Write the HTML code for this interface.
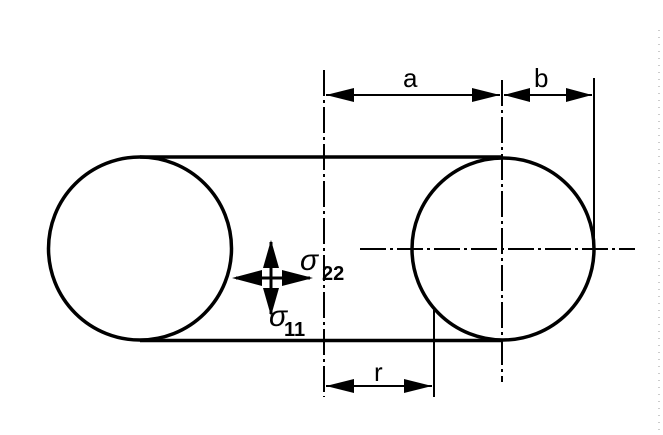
<!DOCTYPE html>
<html><head><meta charset="utf-8"><style>
html,body{margin:0;padding:0;background:#fff;}
svg{display:block;}
text{font-family:"Liberation Sans",sans-serif;fill:#000;}
</style></head><body>
<svg width="663" height="435" viewBox="0 0 663 435" xmlns="http://www.w3.org/2000/svg">
<g stroke="#000" fill="none">
<circle cx="140" cy="248.5" r="91.5" stroke-width="3.5"/>
<circle cx="503" cy="249" r="91" stroke-width="3.5"/>
<line x1="140" y1="157" x2="503" y2="157" stroke-width="3.5"/>
<line x1="140" y1="340.5" x2="503" y2="340.5" stroke-width="3.5"/>
<line x1="324" y1="70" x2="324" y2="397" stroke-width="2" stroke-dasharray="26,4,3,4"/>
<line x1="502" y1="80" x2="502" y2="382" stroke-width="2" stroke-dasharray="26,4,3,4"/>
<line x1="360" y1="249" x2="635" y2="249" stroke-width="2" stroke-dasharray="26,4,3,4"/>
<line x1="594" y1="78" x2="594" y2="249" stroke-width="2"/>
<line x1="434" y1="310" x2="434" y2="397" stroke-width="2"/>
<line x1="326" y1="95" x2="500" y2="95" stroke-width="2"/>
<line x1="504" y1="95" x2="592" y2="95" stroke-width="2"/>
<line x1="326" y1="386" x2="432" y2="386" stroke-width="2"/>
<line x1="236" y1="278" x2="310" y2="278" stroke-width="3"/>
<line x1="271" y1="242" x2="271" y2="314" stroke-width="3"/>
</g>
<g fill="#000">
<!-- a -->
<polygon points="326,95 354,88 354,102"/>
<polygon points="500,95 472,88 472,102"/>
<!-- b -->
<polygon points="504,95 530,88 530,102"/>
<polygon points="592,95 566,88 566,102"/>
<!-- r -->
<polygon points="326,386 354,379 354,393"/>
<polygon points="432,386 404,379 404,393"/>
<!-- stress -->
<polygon points="232,278 262,270 262,286"/>
<polygon points="313,278 282,270 282,286"/>
<polygon points="271,240 263,268 279,268"/>
<polygon points="271,316 263,288 279,288"/>
</g>
<text x="403" y="87" font-size="26">a</text>
<text x="534" y="87" font-size="26">b</text>
<text x="374" y="381" font-size="26">r</text>
<text x="300" y="270" font-size="30" font-style="italic" font-family="Liberation Serif,serif">σ</text>
<text x="322" y="280" font-size="20" font-weight="bold">22</text>
<text x="269" y="326" font-size="30" font-style="italic" font-family="Liberation Serif,serif">σ</text>
<text x="284" y="336" font-size="20" font-weight="bold">11</text>
<line x1="659" y1="30" x2="659" y2="430" stroke="#000" stroke-width="1" stroke-dasharray="1,6" opacity="0.4"/>
</svg>
</body></html>
